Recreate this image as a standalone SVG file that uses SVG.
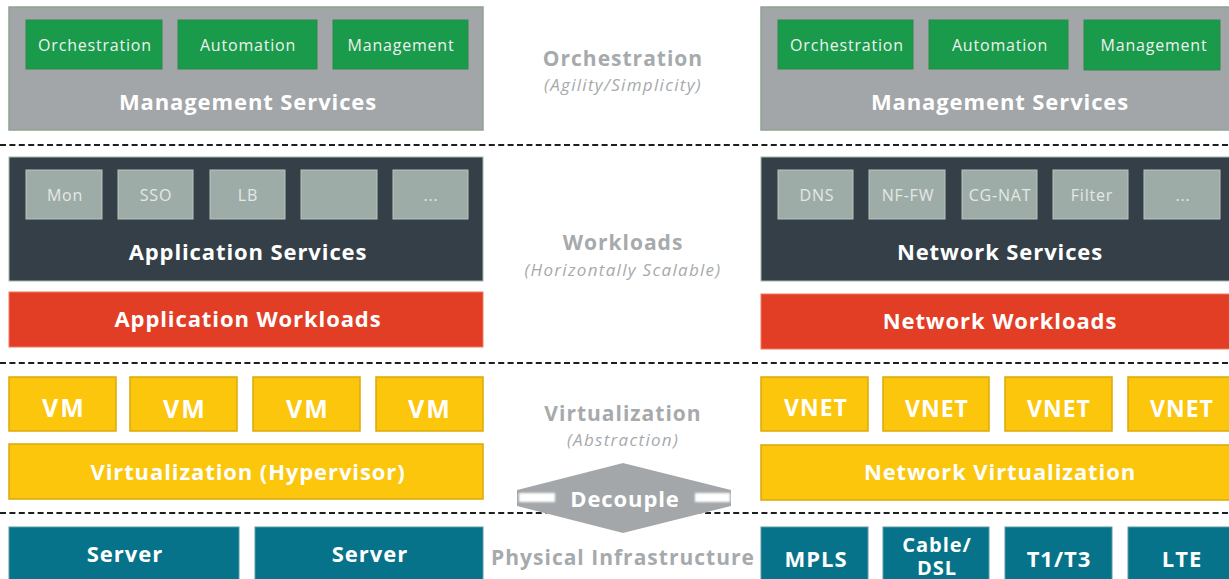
<svg xmlns="http://www.w3.org/2000/svg" width="1229" height="579" viewBox="0 0 1229 579">
  <defs>
    <style>
      .mgmt { fill: #a2a6a9; stroke: #8fa48f; stroke-width: 1.5; }
      .green { fill: #1a9a4b; stroke: #2a8a4a; stroke-width: 1; }
      .dark { fill: #343f48; stroke: #9fb8b0; stroke-width: 1; }
      .tile { fill: #9eaca8; stroke: #b8c4c0; stroke-width: 1; }
      .red { fill: #e23d25; stroke: #f07a60; stroke-width: 1; }
      .yellow { fill: #fbc60c; stroke: #dca808; stroke-width: 1.5; }
      .teal { fill: #06738a; stroke: #5a9aa8; stroke-width: 1; }
      .sep { stroke: #1e1e1e; stroke-width: 2; stroke-dasharray: 6 3.4; fill: none; }
      text { font-family: "Open Sans", "Liberation Sans", Arial, sans-serif; text-anchor: middle; dominant-baseline: central; }
      .small { font-size: 16px; letter-spacing: 0.8px; fill: #edf2ee; }
      .tlab { font-size: 16px; letter-spacing: 0.8px; fill: #e3e9e6; }
      .big { font-size: 22px; font-weight: 700; letter-spacing: 0.9px; fill: #ffffff; }
      .vm { font-size: 25px; font-weight: 700; letter-spacing: 2px; fill: #ffffff; }
      .vnet { font-size: 23px; font-weight: 700; letter-spacing: 1px; fill: #ffffff; }
      .phys { font-size: 22px; font-weight: 700; letter-spacing: 1px; fill: #ffffff; }
      .layer { font-size: 21px; font-weight: 700; letter-spacing: 1px; fill: #a6aaad; }
      .sub { font-size: 17px; font-style: italic; letter-spacing: 1.3px; fill: #a6aaad; }
    </style>
    <filter id="halo" x="-20%" y="-40%" width="140%" height="180%">
      <feGaussianBlur in="SourceAlpha" stdDeviation="3"/>
      <feFlood flood-color="#ffffff"/>
      <feComposite operator="in" in2="SourceAlpha"/>
      <feMerge><feMergeNode/><feMergeNode in="SourceGraphic"/></feMerge>
    </filter>
    <filter id="soft" x="-10%" y="-50%" width="120%" height="200%">
      <feGaussianBlur stdDeviation="0.8"/>
    </filter>
  </defs>

  <rect width="1229" height="579" fill="#ffffff"/>

  <!-- layer separators -->
  <g id="connectors">
    <line class="sep" x1="0" y1="145" x2="1229" y2="145"/>
    <line class="sep" x1="0" y1="363" x2="1229" y2="363"/>
    <line class="sep" x1="0" y1="513" x2="1229" y2="513"/>
  </g>

  <!-- layer captions (centre column) -->
  <g id="caption-orchestration">
    <text class="layer" x="623" y="58">Orchestration</text>
    <text class="sub" x="623" y="84">(Agility/Simplicity)</text>
  </g>
  <g id="caption-workloads">
    <text class="layer" x="623" y="242">Workloads</text>
    <text class="sub" x="623" y="269">(Horizontally Scalable)</text>
  </g>
  <g id="caption-virtualization">
    <text class="layer" x="623" y="413">Virtualization</text>
    <text class="sub" x="623" y="439">(Abstraction)</text>
  </g>
  <g id="caption-physical">
    <text class="layer" x="623" y="557">Physical Infrastructure</text>
  </g>

  <!-- decouple badge -->
  <g id="decouple">
    <polygon points="623,463 731,490 731,506 623,533 517,506 517,490" fill="#a3a7aa" filter="url(#halo)"/>
    <rect x="519" y="493" width="36" height="9" fill="#ffffff" filter="url(#soft)"/>
    <rect x="695" y="493" width="35" height="9" fill="#ffffff" filter="url(#soft)"/>
    <text class="big" x="625" y="498">Decouple</text>
  </g>

  <!-- left stack: application side -->
  <g id="app-management">
    <rect class="mgmt" x="9" y="7" width="474" height="123"/>
    <rect class="green" x="26" y="20" width="136" height="49"/>
    <rect class="green" x="178" y="20" width="139" height="49"/>
    <rect class="green" x="333" y="20" width="135" height="49"/>
    <text class="small" x="95" y="45">Orchestration</text>
    <text class="small" x="248" y="45">Automation</text>
    <text class="small" x="401" y="45">Management</text>
    <text class="big" x="248" y="101">Management Services</text>
  </g>
  <g id="app-services">
    <rect class="dark" x="9" y="157" width="474" height="124"/>
    <rect class="tile" x="26" y="170" width="76" height="49"/>
    <rect class="tile" x="118" y="170" width="75" height="49"/>
    <rect class="tile" x="210" y="170" width="75" height="49"/>
    <rect class="tile" x="301" y="170" width="76" height="49"/>
    <rect class="tile" x="393" y="170" width="75" height="49"/>
    <text class="tlab" x="65" y="195">Mon</text>
    <text class="tlab" x="156" y="195">SSO</text>
    <text class="tlab" x="248" y="195">LB</text>
    <text class="tlab" x="431" y="195">...</text>
    <text class="big" x="248" y="251">Application Services</text>
  </g>
  <g id="app-workloads">
    <rect class="red" x="9" y="292" width="474" height="55"/>
    <text class="big" x="248" y="318">Application Workloads</text>
  </g>
  <g id="vms">
    <rect class="yellow" x="9" y="377" width="107" height="54"/>
    <rect class="yellow" x="130" y="377" width="107" height="54"/>
    <rect class="yellow" x="253" y="377" width="107" height="54"/>
    <rect class="yellow" x="376" y="377" width="107" height="54"/>
    <text class="vm" x="64" y="407">VM</text>
    <text class="vm" x="185" y="408">VM</text>
    <text class="vm" x="308" y="408">VM</text>
    <text class="vm" x="430" y="408">VM</text>
  </g>
  <g id="hypervisor">
    <rect class="yellow" x="9" y="444" width="474" height="55"/>
    <text class="big" x="248" y="471">Virtualization (Hypervisor)</text>
  </g>
  <g id="servers">
    <rect class="teal" x="9" y="527" width="230" height="60"/>
    <rect class="teal" x="255" y="527" width="228" height="60"/>
    <text class="phys" x="125" y="553">Server</text>
    <text class="phys" x="370" y="553">Server</text>
  </g>

  <!-- right stack: network side -->
  <g id="net-management">
    <rect class="mgmt" x="761" y="7" width="475" height="123"/>
    <rect class="green" x="778" y="20" width="135" height="49"/>
    <rect class="green" x="929" y="20" width="139" height="49"/>
    <rect class="green" x="1084" y="20" width="136" height="50"/>
    <text class="small" x="847" y="45">Orchestration</text>
    <text class="small" x="1000" y="45">Automation</text>
    <text class="small" x="1154" y="45">Management</text>
    <text class="big" x="1000" y="101">Management Services</text>
  </g>
  <g id="net-services">
    <rect class="dark" x="761" y="157" width="475" height="124"/>
    <rect class="tile" x="778" y="170" width="75" height="49"/>
    <rect class="tile" x="869" y="170" width="76" height="49"/>
    <rect class="tile" x="962" y="170" width="75" height="49"/>
    <rect class="tile" x="1053" y="170" width="75" height="49"/>
    <rect class="tile" x="1144" y="170" width="76" height="49"/>
    <text class="tlab" x="817" y="195">DNS</text>
    <text class="tlab" x="908" y="195">NF-FW</text>
    <text class="tlab" x="1000" y="195">CG-NAT</text>
    <text class="tlab" x="1092" y="195">Filter</text>
    <text class="tlab" x="1183" y="195">...</text>
    <text class="big" x="1000" y="251">Network Services</text>
  </g>
  <g id="net-workloads">
    <rect class="red" x="761" y="294" width="475" height="55"/>
    <text class="big" x="1000" y="320">Network Workloads</text>
  </g>
  <g id="vnets">
    <rect class="yellow" x="761" y="377" width="107" height="54"/>
    <rect class="yellow" x="883" y="377" width="106" height="54"/>
    <rect class="yellow" x="1005" y="377" width="107" height="54"/>
    <rect class="yellow" x="1128" y="377" width="107" height="54"/>
    <text class="vnet" x="816" y="407">VNET</text>
    <text class="vnet" x="937" y="408">VNET</text>
    <text class="vnet" x="1059" y="408">VNET</text>
    <text class="vnet" x="1182" y="408">VNET</text>
  </g>
  <g id="net-virtualization">
    <rect class="yellow" x="761" y="445" width="475" height="55"/>
    <text class="big" x="1000" y="471">Network Virtualization</text>
  </g>
  <g id="links">
    <rect class="teal" x="761" y="527" width="107" height="60"/>
    <rect class="teal" x="883" y="527" width="106" height="60"/>
    <rect class="teal" x="1005" y="527" width="107" height="60"/>
    <rect class="teal" x="1128" y="527" width="107" height="60"/>
    <text class="phys" x="816" y="558">MPLS</text>
    <text class="phys" style="font-size:20px"><tspan x="937" y="544">Cable/</tspan><tspan x="937" y="567">DSL</tspan></text>
    <text class="phys" x="1059" y="558">T1/T3</text>
    <text class="phys" x="1182" y="558">LTE</text>
  </g>
</svg>
